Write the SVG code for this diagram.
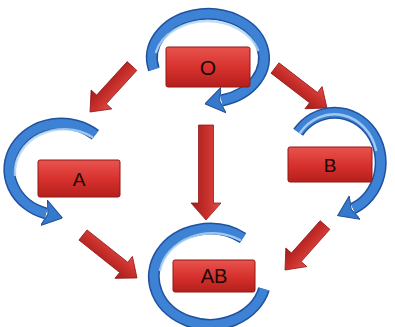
<svg xmlns="http://www.w3.org/2000/svg" width="395" height="327" viewBox="0 0 395 327">
  <defs>
    <linearGradient id="boxGrad" x1="0" y1="0" x2="0" y2="1">
      <stop offset="0" stop-color="#e8544f"/>
      <stop offset="0.5" stop-color="#d8322e"/>
      <stop offset="1" stop-color="#b51f1c"/>
    </linearGradient>
    <linearGradient id="arrowGrad" x1="0" y1="0" x2="0" y2="1">
      <stop offset="0" stop-color="#e0504b"/>
      <stop offset="0.45" stop-color="#c9302c"/>
      <stop offset="1" stop-color="#a31c1a"/>
    </linearGradient>
    <marker id="blueHead" markerUnits="userSpaceOnUse" viewBox="0 -14 19 28" refX="2" refY="0" markerWidth="19" markerHeight="28" orient="auto">
      <path d="M0,-13 L19,0 L0,13 L4,0 Z" fill="#3479cc" stroke="#1e4f98" stroke-width="1"/>
    </marker>
    <style>
      .rib-dark { fill: none; stroke: #1f529e; stroke-width: 12; stroke-linecap: butt; }
      .rib-mid { fill: none; stroke: #3d82d4; stroke-width: 9; stroke-linecap: butt; }
      .rib-hi { fill: none; stroke: #b0d6f6; stroke-width: 2.5; stroke-linecap: round; opacity: 0.85; }
      .box { fill: url(#boxGrad); stroke: #8e1815; stroke-width: 1; }
      .lbl { font-family: "Liberation Sans", Arial, sans-serif; font-size: 19px; fill: #1a0808; text-anchor: middle; dominant-baseline: central; }
      .arr { fill: url(#arrowGrad); stroke: #951a18; stroke-width: 0.8; }
    </style>
  </defs>

  <rect width="395" height="327" fill="#ffffff"/>

  <g id="connectors">
    <path class="arr" transform="translate(132,66) rotate(132.4)" d="M0,-6.5 L45.3,-6.5 L45.3,-14 L62.3,0 L45.3,14 L45.3,6.5 L0,6.5 Z"/>
    <path class="arr" transform="translate(275,68) rotate(37.6)" d="M0,-6.5 L48.6,-6.5 L48.6,-14 L65.6,0 L48.6,14 L48.6,6.5 L0,6.5 Z"/>
    <path class="arr" transform="translate(206,125) rotate(90)" d="M0,-7.5 L78,-7.5 L78,-15 L95,0 L78,15 L78,7.5 L0,7.5 Z"/>
    <path class="arr" transform="translate(83,235) rotate(38.5)" d="M0,-6.5 L52,-6.5 L52,-14 L69,0 L52,14 L52,6.5 L0,6.5 Z"/>
    <path class="arr" transform="translate(325,225) rotate(131.6)" d="M0,-6.5 L43.2,-6.5 L43.2,-14 L60.2,0 L43.2,14 L43.2,6.5 L0,6.5 Z"/>
  </g>

  <g id="node-O">
    <path class="rib-dark" d="M153.9,69.4 A56,44 0 1 1 221.6,100.5" marker-end="url(#blueHead)"/>
    <path class="rib-mid" d="M153.9,69.4 A56,44 0 1 1 221.6,100.5"/>
    <path class="rib-hi" d="M156,52 A53,41 0 0 1 258,50"/>
    <rect class="box" x="166" y="47" width="84" height="40" rx="2"/>
    <text class="lbl" x="208" y="67" style="font-size:21px">O</text>
  </g>

  <g id="node-A">
    <path class="rib-dark" d="M95.4,134.8 A52,46 0 1 0 46,213.5" marker-end="url(#blueHead)"/>
    <path class="rib-mid" d="M95.4,134.8 A52,46 0 1 0 46,213.5"/>
    <path class="rib-hi" d="M92,137 A49,43 0 0 0 15,175"/>
    <rect class="box" x="38" y="160" width="82" height="37" rx="2"/>
    <text class="lbl" x="79" y="179">A</text>
  </g>

  <g id="node-B">
    <path class="rib-dark" d="M298.2,132.2 A46,50 0 1 1 353,208.5" marker-end="url(#blueHead)"/>
    <path class="rib-mid" d="M298.2,132.2 A46,50 0 1 1 353,208.5"/>
    <path class="rib-hi" d="M300,133 A43,47 0 0 1 376,150"/>
    <rect class="box" x="288" y="147" width="84" height="35" rx="2"/>
    <text class="lbl" x="330" y="165">B</text>
  </g>

  <g id="node-AB">
    <path class="rib-dark" d="M243,238 A56,48 0 1 0 264,289"/>
    <path class="rib-mid" d="M243,238 A56,48 0 1 0 264,289"/>
    <path class="rib-hi" d="M240,240 A53,45 0 0 0 160,270"/>
    <rect class="box" x="173" y="260" width="82" height="32" rx="2"/>
    <text class="lbl" x="214" y="276" style="font-size:20px">AB</text>
  </g>
</svg>
